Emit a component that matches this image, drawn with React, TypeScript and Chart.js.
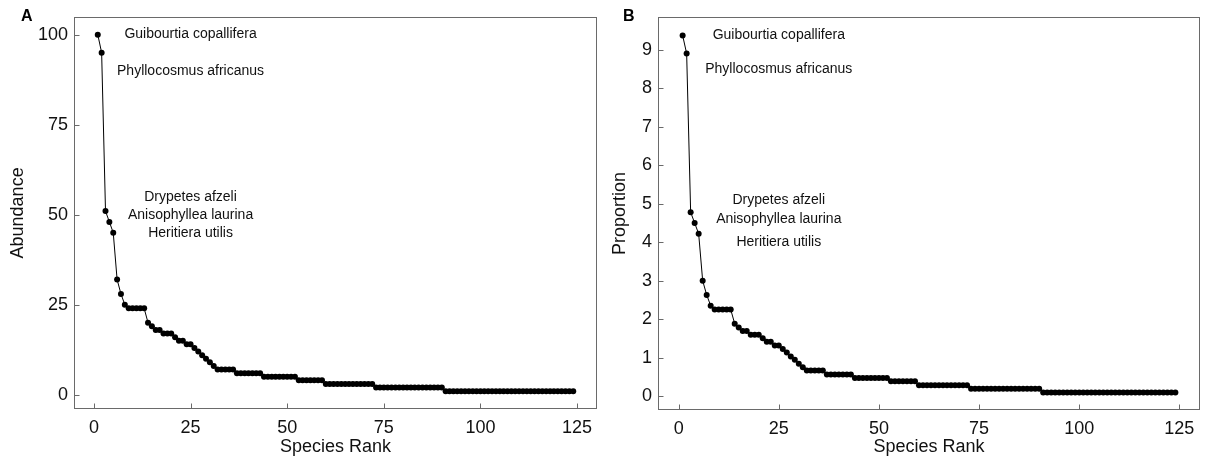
import React, { useEffect, useRef } from "react";
import { Chart, registerables } from "chart.js";

Chart.register(...registerables);

// ---- data ----
const abundance = [
  100, 95, 51, 48, 45, 32, 28, 25,
  24, 24, 24, 24, 24,
  20, 19, 18, 18, 17, 17, 17, 16, 15, 15, 14, 14, 13, 12, 11, 10, 9, 8,
  7, 7, 7, 7, 7,
  6, 6, 6, 6, 6, 6, 6,
  5, 5, 5, 5, 5, 5, 5, 5, 5,
  4, 4, 4, 4, 4, 4, 4,
  3, 3, 3, 3, 3, 3, 3, 3, 3, 3, 3, 3, 3,
  2, 2, 2, 2, 2, 2, 2, 2, 2, 2, 2, 2, 2, 2, 2, 2, 2, 2,
  1, 1, 1, 1, 1, 1, 1, 1, 1, 1, 1, 1, 1, 1, 1, 1, 1, 1, 1, 1,
  1, 1, 1, 1, 1, 1, 1, 1, 1, 1, 1, 1, 1, 1,
];

const proportion = [
  9.38, 8.91, 4.78, 4.5, 4.22, 3.0, 2.63, 2.35,
  2.25, 2.25, 2.25, 2.25, 2.25,
  1.88, 1.78, 1.69, 1.69, 1.59, 1.59, 1.59, 1.5, 1.41, 1.41, 1.31, 1.31, 1.22, 1.13, 1.03, 0.94, 0.84, 0.75,
  0.66, 0.66, 0.66, 0.66, 0.66,
  0.56, 0.56, 0.56, 0.56, 0.56, 0.56, 0.56,
  0.47, 0.47, 0.47, 0.47, 0.47, 0.47, 0.47, 0.47, 0.47,
  0.38, 0.38, 0.38, 0.38, 0.38, 0.38, 0.38,
  0.28, 0.28, 0.28, 0.28, 0.28, 0.28, 0.28, 0.28, 0.28, 0.28, 0.28, 0.28, 0.28,
  0.19, 0.19, 0.19, 0.19, 0.19, 0.19, 0.19, 0.19, 0.19, 0.19, 0.19, 0.19, 0.19, 0.19, 0.19, 0.19, 0.19, 0.19,
  0.09, 0.09, 0.09, 0.09, 0.09, 0.09, 0.09, 0.09, 0.09, 0.09, 0.09, 0.09, 0.09, 0.09, 0.09, 0.09, 0.09, 0.09, 0.09, 0.09,
  0.09, 0.09, 0.09, 0.09, 0.09, 0.09, 0.09, 0.09, 0.09, 0.09, 0.09, 0.09, 0.09, 0.09,
];

const xTickValues = [0, 25, 50, 75, 100, 125];
const yTickValuesA = [0, 25, 50, 75, 100];
const yTickValuesB = [0, 1, 2, 3, 4, 5, 6, 7, 8, 9];

const speciesLabels = [
  "Guibourtia copallifera",
  "Phyllocosmus africanus",
  "Drypetes afzeli",
  "Anisophyllea laurina",
  "Heritiera utilis",
];
const labelRank = [25, 25, 25, 25, 25];
const labelValueA = [100, 90, 55, 50, 45];
const labelValueB = [9.4, 8.5, 5.1, 4.6, 4.0];

const FONT = '"Liberation Sans", Arial, Helvetica, sans-serif';

type PanelCfg = {
  letter: string;
  yTitle: string;
  values: number[];
  yTicks: number[];
  yMin: number;
  yMax: number;
  labelValues: number[];
  yAxisWidth: number;
  xAxisHeight: number;
  padRight: number;
  width: number;
};

function makeDecor(cfg: PanelCfg) {
  return {
    id: "decor" + cfg.letter,
    beforeDatasetsDraw(chart: any) {
      const { ctx, chartArea: a, scales } = chart;
      const xs = scales.x;
      const ys = scales.y;
      ctx.save();
      ctx.strokeStyle = "#6a6a6a";
      ctx.lineWidth = 1;
      const l = Math.round(a.left) + 0.5;
      const t = Math.round(a.top) + 0.5;
      const r = Math.round(a.right) - 0.5;
      const b = Math.round(a.bottom) - 0.5;
      ctx.strokeRect(l, t, r - l, b - t);
      ctx.beginPath();
      xTickValues.forEach((v) => {
        const p = Math.round(xs.getPixelForValue(v)) + 0.5;
        ctx.moveTo(p, b);
        ctx.lineTo(p, b - 5);
      });
      cfg.yTicks.forEach((v) => {
        const p = Math.round(ys.getPixelForValue(v)) + 0.5;
        ctx.moveTo(l, p);
        ctx.lineTo(l + 5, p);
      });
      ctx.stroke();
      ctx.restore();
    },
    afterDraw(chart: any) {
      const { ctx, scales } = chart;
      const xs = scales.x;
      const ys = scales.y;
      ctx.save();
      ctx.fillStyle = "#111";
      ctx.font = `14px ${FONT}`;
      ctx.textAlign = "center";
      ctx.textBaseline = "middle";
      speciesLabels.forEach((s, i) => {
        ctx.fillText(s, xs.getPixelForValue(labelRank[i]), ys.getPixelForValue(cfg.labelValues[i]));
      });
      ctx.font = `bold 16px ${FONT}`;
      ctx.textAlign = "left";
      ctx.textBaseline = "alphabetic";
      ctx.fillStyle = "#000";
      ctx.fillText(cfg.letter, 21, 21);
      ctx.restore();
    },
  };
}

function Panel({ cfg }: { cfg: PanelCfg }) {
  const ref = useRef<HTMLCanvasElement | null>(null);
  useEffect(() => {
    if (!ref.current) return;
    const data = cfg.values.map((v, i) => ({ x: i + 1, y: v }));
    const chart = new Chart(ref.current, {
      type: "scatter",
      data: {
        datasets: [
          {
            data,
            showLine: true,
            borderColor: "#000",
            borderWidth: 1,
            pointRadius: 3,
            pointBackgroundColor: "#000",
            pointBorderWidth: 0,
            pointHoverRadius: 3,
          },
        ],
      },
      options: {
        animation: false,
        responsive: false,
        maintainAspectRatio: false,
        devicePixelRatio: 1,
        layout: { padding: { top: 9, right: cfg.padRight, left: 0, bottom: 0 } },
        plugins: { legend: { display: false }, tooltip: { enabled: false } },
        events: [],
        scales: {
          x: {
            type: "linear",
            min: -5.15,
            max: 130.15,
            afterBuildTicks: (s: any) => {
              s.ticks = xTickValues.map((v) => ({ value: v }));
            },
            afterFit: (s: any) => {
              s.height = cfg.xAxisHeight;
            },
            grid: { display: false, drawTicks: false },
            border: { display: false },
            ticks: {
              font: { family: FONT, size: 18 },
              color: "#111",
              padding: 8,
              maxRotation: 0,
              autoSkip: false,
            },
            title: {
              display: true,
              text: "Species Rank",
              font: { family: FONT, size: 18 },
              color: "#111",
              padding: { top: 0, bottom: 3 },
            },
          },
          y: {
            type: "linear",
            min: cfg.yMin,
            max: cfg.yMax,
            afterBuildTicks: (s: any) => {
              s.ticks = cfg.yTicks.map((v) => ({ value: v }));
            },
            afterFit: (s: any) => {
              s.width = cfg.yAxisWidth;
            },
            grid: { display: false, drawTicks: false },
            border: { display: false },
            ticks: {
              font: { family: FONT, size: 18 },
              color: "#111",
              padding: 6,
              autoSkip: false,
            },
            title: {
              display: true,
              text: cfg.yTitle,
              font: { family: FONT, size: 18 },
              color: "#111",
              padding: { top: 7, bottom: 0 },
            },
          },
        },
      },
      plugins: [makeDecor(cfg)],
    } as any);
    return () => chart.destroy();
  }, [cfg]);
  return <canvas ref={ref} width={cfg.width} height={461} style={{ display: "block" }} />;
}

const panelA: PanelCfg = {
  letter: "A",
  yTitle: "Abundance",
  values: abundance,
  yTicks: yTickValuesA,
  yMin: -3.95,
  yMax: 104.95,
  labelValues: labelValueA,
  yAxisWidth: 74,
  xAxisHeight: 52,
  padRight: 5,
  width: 602,
};

const panelB: PanelCfg = {
  letter: "B",
  yTitle: "Proportion",
  values: proportion,
  yTicks: yTickValuesB,
  yMin: -0.365,
  yMax: 9.865,
  labelValues: labelValueB,
  yAxisWidth: 56,
  xAxisHeight: 51,
  padRight: 5,
  width: 603,
};

export default function App() {
  return (
    <div
      style={{
        position: "absolute",
        left: 0,
        top: 0,
        width: 1205,
        height: 461,
        background: "#fff",
        display: "flex",
      }}
    >
      <Panel cfg={panelA} />
      <Panel cfg={panelB} />
    </div>
  );
}
